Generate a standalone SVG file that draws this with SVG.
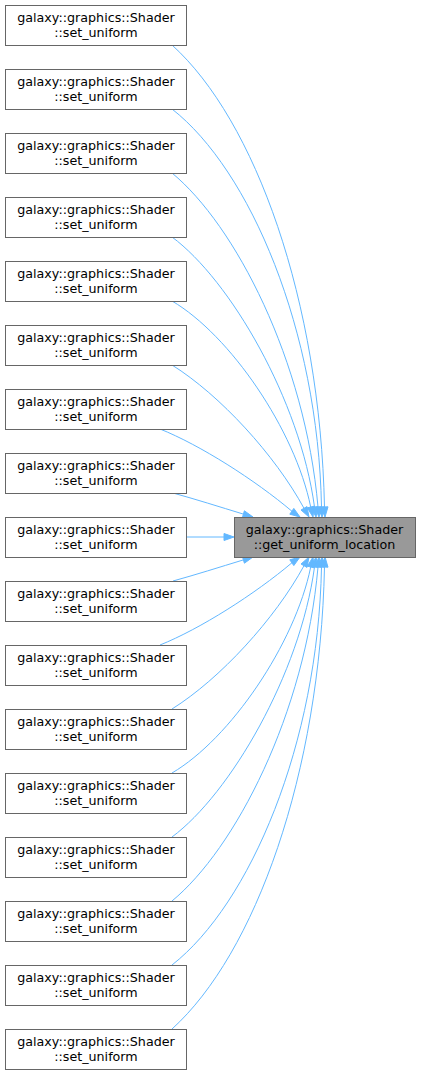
<svg xmlns="http://www.w3.org/2000/svg" width="421" height="1075" viewBox="0 0 421 1075">
<defs>
<style>
.n rect{fill:#ffffff;stroke:#666666;stroke-width:1}
.t rect{fill:#999999;stroke:#666666;stroke-width:1}
text{font-family:"DejaVu Sans",sans-serif;font-size:12.7px;fill:#000000;text-anchor:middle}
.e path{fill:none;stroke:#63b8ff;stroke-width:1}
.e polygon{fill:#63b8ff;stroke:#63b8ff;stroke-width:1}
</style>
</defs>
<rect x="0" y="0" width="421" height="1075" fill="#ffffff"/>
<g id="connectors" class="e">
<path d="M172,45 C255,120 320,300 324.5,507"/><polygon points="328,506.8 325,517 321,507.2"/>
<path d="M172,109 C250,170 318,330 321.5,507"/><polygon points="325,506.8 322,517 318,507.2"/>
<path d="M172,173 C235,225 305,360 318,507"/><polygon points="321.5,506.7 319,517 314.5,507.3"/>
<path d="M172,237 C230,280 300,400 314.5,507"/><polygon points="318,506.6 316,517 311,507.6"/>
<path d="M172,301 C230,335 295,430 310.7,507"/><polygon points="314.1,506.2 313,517 307.3,507.8"/>
<path d="M172,365 C220,395 275,455 304,508.3"/><polygon points="307,506.6 309,517 301,510"/>
<path d="M160,429 C200,445 255,480 292,511.3"/><polygon points="293.8,508.4 300,517 289.8,514.2"/>
<path d="M173,493 C195,499 220,507 243.4,514.1"/><polygon points="244.4,510.8 253,517 242.4,517.5"/>
<path d="M187,537 L224,537"/><polygon points="224,533.5 234,537 224,540.5"/>
<path d="M173,581 C195,575 220,567 243.4,559.9"/><polygon points="244.4,563.2 253,557 242.4,556.5"/>
<path d="M160,645 C200,629 255,594 292,562.7"/><polygon points="293.8,565.6 300,557 289.8,559.8"/>
<path d="M172,709 C220,679 275,619 304,565.7"/><polygon points="307,567.4 309,557 301,564"/>
<path d="M172,773 C230,739 295,644 310.7,567"/><polygon points="314.1,567.8 313,557 307.3,566.2"/>
<path d="M172,837 C230,794 300,674 314.5,567"/><polygon points="318,567.4 316,557 311,566.4"/>
<path d="M172,901 C235,849 305,714 318,567"/><polygon points="321.5,567.3 319,557 314.5,566.7"/>
<path d="M172,965 C250,904 318,744 321.5,567"/><polygon points="325,567.2 322,557 318,566.8"/>
<path d="M172,1029 C255,954 320,774 324.5,567"/><polygon points="328,567.2 325,557 321,566.8"/>
</g>
<g id="target" class="t"><rect x="234.5" y="517.5" width="181" height="40"/><text x="324.5" y="533.5">galaxy::graphics::Shader</text><text x="324.5" y="548.5">::get_uniform_location</text></g>
<g id="n1" class="n"><rect x="5.5" y="5.5" width="181" height="40"/><text x="96" y="21.5">galaxy::graphics::Shader</text><text x="96" y="36.5">::set_uniform</text></g>
<g id="n2" class="n"><rect x="5.5" y="69.5" width="181" height="40"/><text x="96" y="85.5">galaxy::graphics::Shader</text><text x="96" y="100.5">::set_uniform</text></g>
<g id="n3" class="n"><rect x="5.5" y="133.5" width="181" height="40"/><text x="96" y="149.5">galaxy::graphics::Shader</text><text x="96" y="164.5">::set_uniform</text></g>
<g id="n4" class="n"><rect x="5.5" y="197.5" width="181" height="40"/><text x="96" y="213.5">galaxy::graphics::Shader</text><text x="96" y="228.5">::set_uniform</text></g>
<g id="n5" class="n"><rect x="5.5" y="261.5" width="181" height="40"/><text x="96" y="277.5">galaxy::graphics::Shader</text><text x="96" y="292.5">::set_uniform</text></g>
<g id="n6" class="n"><rect x="5.5" y="325.5" width="181" height="40"/><text x="96" y="341.5">galaxy::graphics::Shader</text><text x="96" y="356.5">::set_uniform</text></g>
<g id="n7" class="n"><rect x="5.5" y="389.5" width="181" height="40"/><text x="96" y="405.5">galaxy::graphics::Shader</text><text x="96" y="420.5">::set_uniform</text></g>
<g id="n8" class="n"><rect x="5.5" y="453.5" width="181" height="40"/><text x="96" y="469.5">galaxy::graphics::Shader</text><text x="96" y="484.5">::set_uniform</text></g>
<g id="n9" class="n"><rect x="5.5" y="517.5" width="181" height="40"/><text x="96" y="533.5">galaxy::graphics::Shader</text><text x="96" y="548.5">::set_uniform</text></g>
<g id="n10" class="n"><rect x="5.5" y="581.5" width="181" height="40"/><text x="96" y="597.5">galaxy::graphics::Shader</text><text x="96" y="612.5">::set_uniform</text></g>
<g id="n11" class="n"><rect x="5.5" y="645.5" width="181" height="40"/><text x="96" y="661.5">galaxy::graphics::Shader</text><text x="96" y="676.5">::set_uniform</text></g>
<g id="n12" class="n"><rect x="5.5" y="709.5" width="181" height="40"/><text x="96" y="725.5">galaxy::graphics::Shader</text><text x="96" y="740.5">::set_uniform</text></g>
<g id="n13" class="n"><rect x="5.5" y="773.5" width="181" height="40"/><text x="96" y="789.5">galaxy::graphics::Shader</text><text x="96" y="804.5">::set_uniform</text></g>
<g id="n14" class="n"><rect x="5.5" y="837.5" width="181" height="40"/><text x="96" y="853.5">galaxy::graphics::Shader</text><text x="96" y="868.5">::set_uniform</text></g>
<g id="n15" class="n"><rect x="5.5" y="901.5" width="181" height="40"/><text x="96" y="917.5">galaxy::graphics::Shader</text><text x="96" y="932.5">::set_uniform</text></g>
<g id="n16" class="n"><rect x="5.5" y="965.5" width="181" height="40"/><text x="96" y="981.5">galaxy::graphics::Shader</text><text x="96" y="996.5">::set_uniform</text></g>
<g id="n17" class="n"><rect x="5.5" y="1029.5" width="181" height="40"/><text x="96" y="1045.5">galaxy::graphics::Shader</text><text x="96" y="1060.5">::set_uniform</text></g>
</svg>
